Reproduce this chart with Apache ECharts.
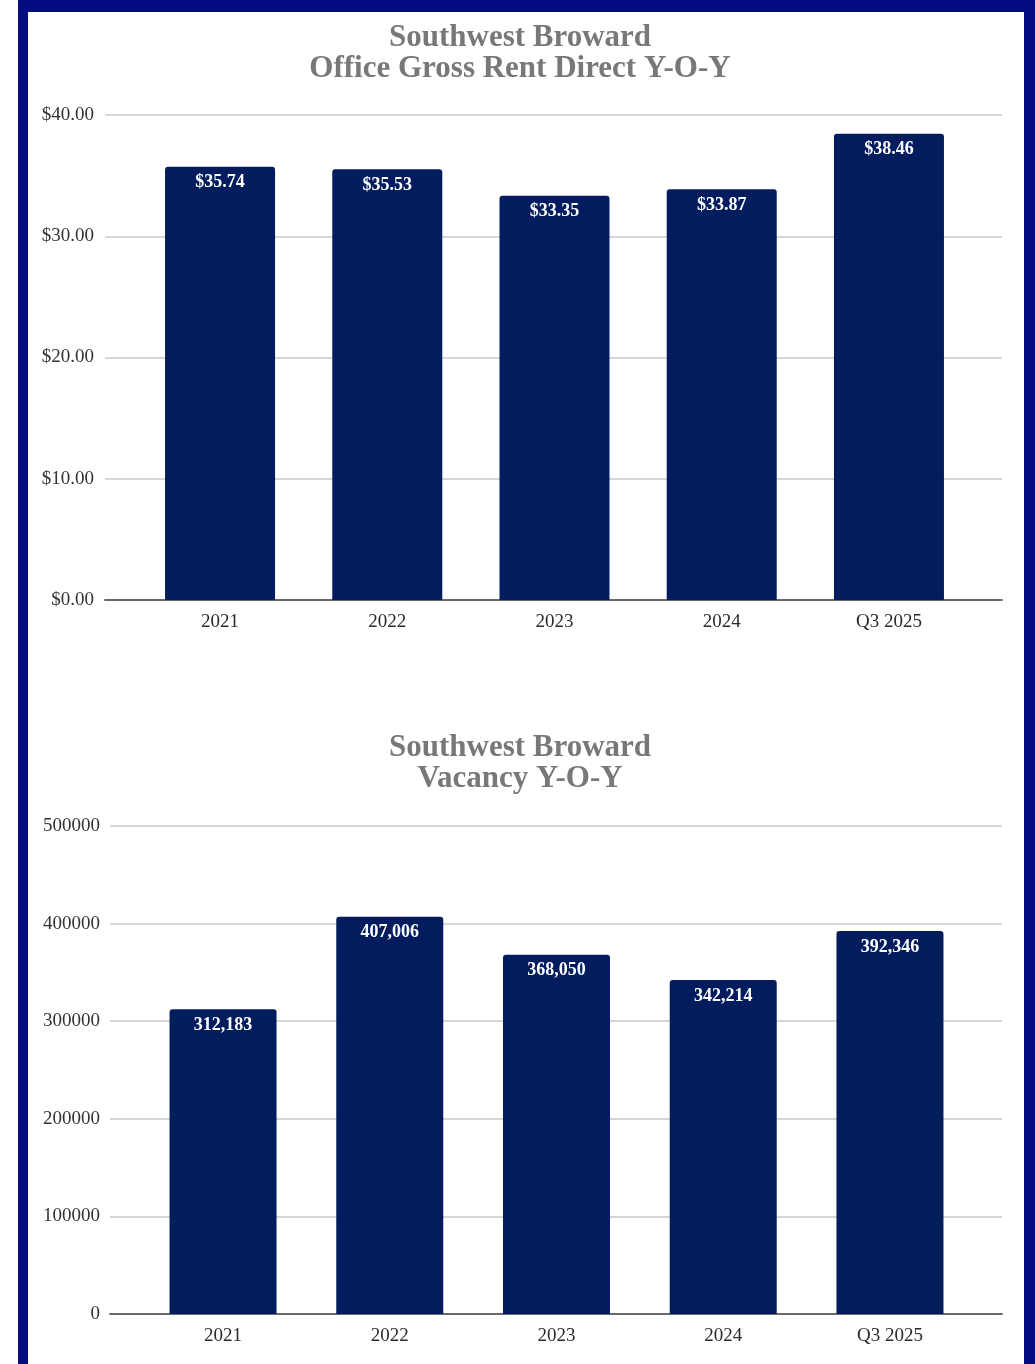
<!DOCTYPE html>
<html>
<head>
<meta charset="utf-8">
<title>Southwest Broward Office Market</title>
<script src="https://cdn.jsdelivr.net/npm/echarts@6/dist/echarts.min.js"></script>
<style>
  html, body { margin: 0; padding: 0; background: #ffffff; }
  #frame {
    position: absolute; left: 18px; top: 0; width: 996px; height: 1364px;
    border-left: 10px solid #020b80; border-top: 12px solid #020b80; border-right: 11px solid #020b80;
    box-sizing: content-box; pointer-events: none; z-index: 2;
  }
  #chart { position: absolute; left: 0; top: 0; width: 1035px; height: 1364px; z-index: 1; }
</style>
</head>
<body>
<div id="chart"></div>
<div id="frame"></div>
<script>
// Categories shared by both panels
const categories = ['2021', '2022', '2023', '2024', 'Q3 2025'];

// Office gross rent, direct ($ per sq ft)
const rentValues = [35.74, 35.53, 33.35, 33.87, 38.46];
const rentTicks = [0, 10, 20, 30, 40];

// Vacant square footage
const vacancyValues = [312183, 407006, 368050, 342214, 392346];
const vacancyTicks = [0, 100000, 200000, 300000, 400000, 500000];

const SERIF = "'Liberation Serif', 'Times New Roman', serif";
const NAVY = '#021c5e';
const catIndex = categories.map((_, i) => i);

function xAxisFor(gridIndex, min, max) {
  return {
    type: 'value', gridIndex, min, max,
    splitLine: { show: false },
    axisTick: { show: false },
    axisLine: { show: true, onZero: false, lineStyle: { color: '#6a6a6a', width: 2 } },
    axisLabel: {
      customValues: catIndex,
      formatter: v => categories[Math.round(v)] ?? '',
      color: '#2b2b2b', fontFamily: SERIF, fontSize: 19, margin: 13
    }
  };
}

function yAxisFor(gridIndex, ticks, interval, fmt, margin) {
  return {
    type: 'value', gridIndex,
    min: ticks[0], max: ticks[ticks.length - 1], interval,
    axisLine: { show: false }, axisTick: { show: false },
    splitLine: { show: true, lineStyle: { color: '#d6d6d6', width: 2 } },
    axisLabel: { formatter: fmt, color: '#333333', fontFamily: SERIF, fontSize: 19, margin }
  };
}

function barSeries(idx, values, width, fmt) {
  return {
    type: 'bar', xAxisIndex: idx, yAxisIndex: idx,
    data: values.map((v, i) => [i, v]),
    barWidth: width,
    itemStyle: { color: NAVY, borderRadius: [3, 3, 0, 0] },
    label: {
      show: true, position: 'insideTop', distance: 7,
      formatter: p => fmt(p.value[1]),
      color: '#ffffff', fontFamily: SERIF, fontWeight: 'bold', fontSize: 18
    },
    silent: true, animation: false
  };
}

const chart = echarts.init(document.getElementById('chart'), null, { renderer: 'canvas' });
chart.setOption({
  backgroundColor: '#ffffff',
  animation: false,
  title: [
    {
      text: 'Southwest Broward\nOffice Gross Rent Direct Y-O-Y',
      left: 515, top: 17, textAlign: 'center',
      textStyle: { fontFamily: SERIF, fontWeight: 'bold', fontSize: 31, lineHeight: 31, color: '#787878' }
    },
    {
      text: 'Southwest Broward\nVacancy Y-O-Y',
      left: 515, top: 727, textAlign: 'center',
      textStyle: { fontFamily: SERIF, fontWeight: 'bold', fontSize: 31, lineHeight: 31, color: '#787878' }
    }
  ],
  grid: [
    { left: 105, right: 33, top: 115, bottom: 764 },
    { left: 110, right: 33, top: 826, bottom: 50 }
  ],
  xAxis: [
    xAxisFor(0, -0.688, 4.676),
    xAxisFor(1, -0.678, 4.672)
  ],
  yAxis: [
    yAxisFor(0, rentTicks, 10, v => '$' + v.toFixed(2), 11),
    yAxisFor(1, vacancyTicks, 100000, v => String(v), 10)
  ],
  series: [
    barSeries(0, rentValues, 110, v => '$' + v.toFixed(2)),
    barSeries(1, vacancyValues, 107, v => v.toLocaleString('en-US'))
  ]
});
</script>
</body>
</html>
